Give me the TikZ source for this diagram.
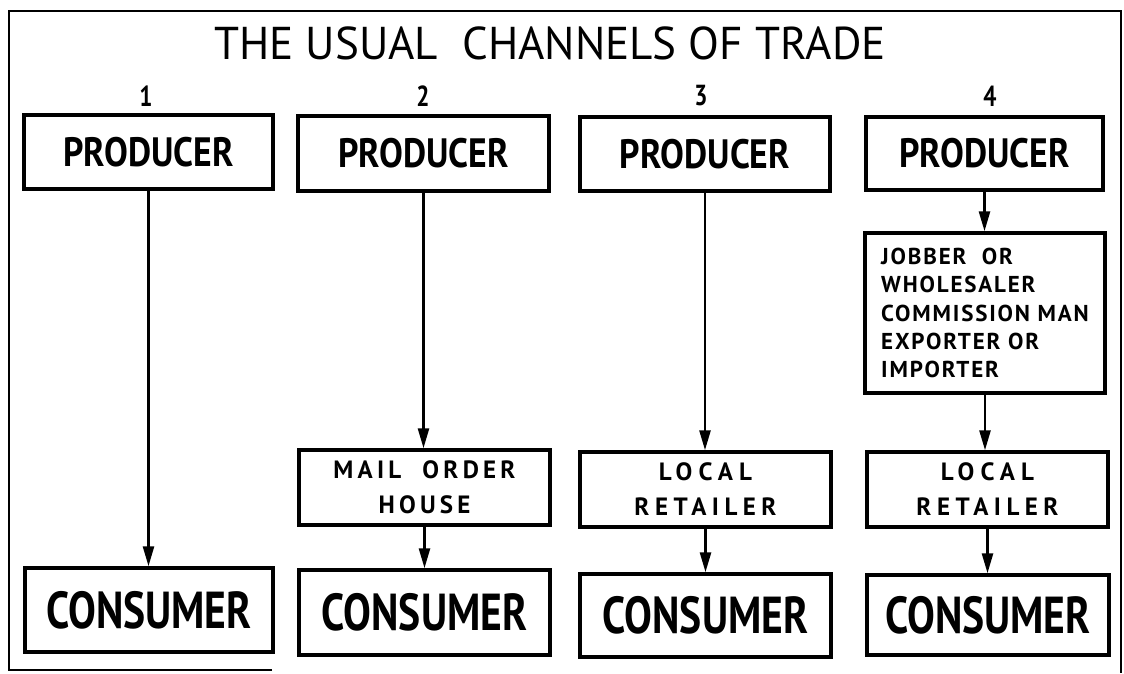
\documentclass[tikz,border=0pt]{standalone}
\usepackage{fontspec}
\usepackage{graphicx}
\setmainfont{PT Sans}
\usetikzlibrary{arrows.meta}
\newcommand{\sx}[2]{\scalebox{#1}[1]{#2}}
\newcommand{\ls}[2]{{\addfontfeatures{LetterSpace=#1}#2}}
\begin{document}
\begin{tikzpicture}[x=1pt,y=-1pt,
  box/.style={draw,line width=3.5pt,inner sep=0pt,align=center},
  arr/.style={line width=2.6pt,-{Triangle[length=20pt,width=11pt]}},
  frame/.style={line width=2pt},
  prodtxt/.style={font=\fontsize{41}{41}\selectfont\bfseries},
  constxt/.style={font=\fontsize{52}{52}\selectfont\bfseries},
  midtxt/.style={font=\fontsize{25}{35}\selectfont\bfseries},
  numtxt/.style={font=\fontsize{29}{29}\selectfont\bfseries}]
\useasboundingbox (0,0) rectangle (1124,673);
% frame
\draw[frame] (272,670) -- (9,670) -- (9,11) -- (1121,11) -- (1121,673);
% title and numbers
\node[font=\fontsize{46}{46}\selectfont] (title) at (550,43) {\sx{0.98}{THE USUAL\ \ CHANNELS OF TRADE}};
\node[numtxt] (n1) at (146,96) {\sx{0.8}{1}};
\node[numtxt] (n2) at (423,96) {\sx{0.8}{2}};
\node[numtxt] (n3) at (701,96) {\sx{0.8}{3}};
\node[numtxt] (n4) at (990,96) {\sx{0.8}{4}};
% producers
\node[box,prodtxt,minimum width=249pt,minimum height=74pt] (p1) at (148.5,152) {\sx{0.87}{PRODUCER}};
\node[box,prodtxt,minimum width=251pt,minimum height=75pt] (p2) at (423.5,153.5) {\sx{0.87}{PRODUCER}};
\node[box,prodtxt,minimum width=250pt,minimum height=74pt] (p3) at (705,154) {\sx{0.87}{PRODUCER}};
\node[box,prodtxt,minimum width=237pt,minimum height=73pt] (p4) at (984.5,153.5) {\sx{0.87}{PRODUCER}};
% middle boxes
\node[box,minimum width=240pt,minimum height=160pt,align=left,
      font=\fontsize{23}{28.3}\selectfont\bfseries] (j4) at (985,313)
  {\ls{8}{JOBBER\ \ OR}\\ \ls{8}{WHOLESALER}\\ \ls{8}{COMMISSION MAN}\\ \ls{8}{EXPORTER OR}\\ \ls{8}{IMPORTER}};
\node[box,midtxt,minimum width=251pt,minimum height=75pt] (m2) at (424.5,487.5) {\ls{17}{MAIL\ \ ORDER}\\\ls{17}{HOUSE}};
\node[box,midtxt,minimum width=251pt,minimum height=75pt] (r3) at (705.5,489.5) {\ls{25}{LOCAL}\\\ls{22}{RETAILER}};
\node[box,midtxt,minimum width=241pt,minimum height=75pt] (r4) at (987.5,489.5) {\ls{25}{LOCAL}\\\ls{22}{RETAILER}};
% consumers
\node[box,constxt,minimum width=248pt,minimum height=84pt] (c1) at (149,610) {\sx{0.8}{CONSUMER}};
\node[box,constxt,minimum width=251pt,minimum height=85pt] (c2) at (424.5,612.5) {\sx{0.8}{CONSUMER}};
\node[box,constxt,minimum width=251pt,minimum height=83pt] (c3) at (705.5,615.5) {\sx{0.8}{CONSUMER}};
\node[box,constxt,minimum width=242pt,minimum height=80pt] (c4) at (988,615) {\sx{0.8}{CONSUMER}};
% arrows
\draw[arr] (p1.south) -- (p1.south |- c1.north);
\draw[arr] (p2.south) -- (p2.south |- m2.north);
\draw[arr] (m2.south) -- (m2.south |- c2.north);
\draw[arr] (p3.south) -- (p3.south |- r3.north);
\draw[arr] (r3.south) -- (r3.south |- c3.north);
\draw[arr] (p4.south) -- (p4.south |- j4.north);
\draw[arr] (j4.south) -- (j4.south |- r4.north);
\draw[arr] (r4.south) -- (r4.south |- c4.north);
\end{tikzpicture}
\end{document}
